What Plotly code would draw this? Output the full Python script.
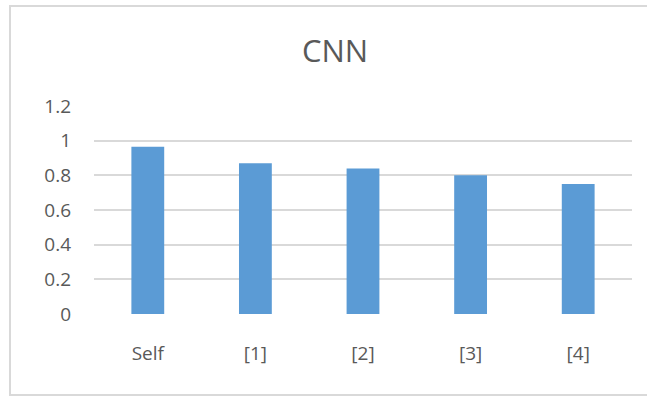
import plotly.graph_objects as go

categories = ["Self", "[1]", "[2]", "[3]", "[4]"]
values = [0.965, 0.87, 0.84, 0.80, 0.75]
y_ticks = [0, 0.2, 0.4, 0.6, 0.8, 1, 1.2]

W, H = 647, 396
ml, mr, mt, mb = 94, 15, 106, 82
pw = W - ml - mr
ph = H - mt - mb

fig = go.Figure(go.Bar(x=categories, y=values, marker=dict(color="#5B9BD5", line=dict(width=0)),
                       hoverinfo="skip"))

fig.update_layout(
    width=W, height=H,
    margin=dict(l=ml, r=mr, t=mt, b=mb, pad=0),
    paper_bgcolor="white", plot_bgcolor="white",
    bargap=0.695,
    showlegend=False,
    font=dict(family="Open Sans", color="#595959"),
    title=dict(text="CNN", x=335 / W, xref="container", xanchor="center",
               y=1 - 51 / H, yref="container", yanchor="middle",
               font=dict(size=31, color="#595959", family="Open Sans")),
    xaxis=dict(showline=False, showgrid=False, zeroline=False, ticks="",
               tickfont=dict(size=19, color="#595959"), ticklabelstandoff=26),
    yaxis=dict(range=[0, 1.2], tickvals=y_ticks, showgrid=True, gridcolor="#d9d9d9", gridwidth=1.5,
               zeroline=False, showline=False, ticks="",
               tickfont=dict(size=19, color="#595959"), ticklabelstandoff=22),
    shapes=[dict(type="rect", xref="paper", yref="paper",
                 x0=(10 - ml) / pw, x1=(W + 10 - ml) / pw,
                 y0=(H - mb - 395) / ph, y1=(H - mb - 6) / ph,
                 line=dict(color="#d9d9d9", width=2), fillcolor="rgba(0,0,0,0)", layer="below")],
)

fig.write_html("out.html")
